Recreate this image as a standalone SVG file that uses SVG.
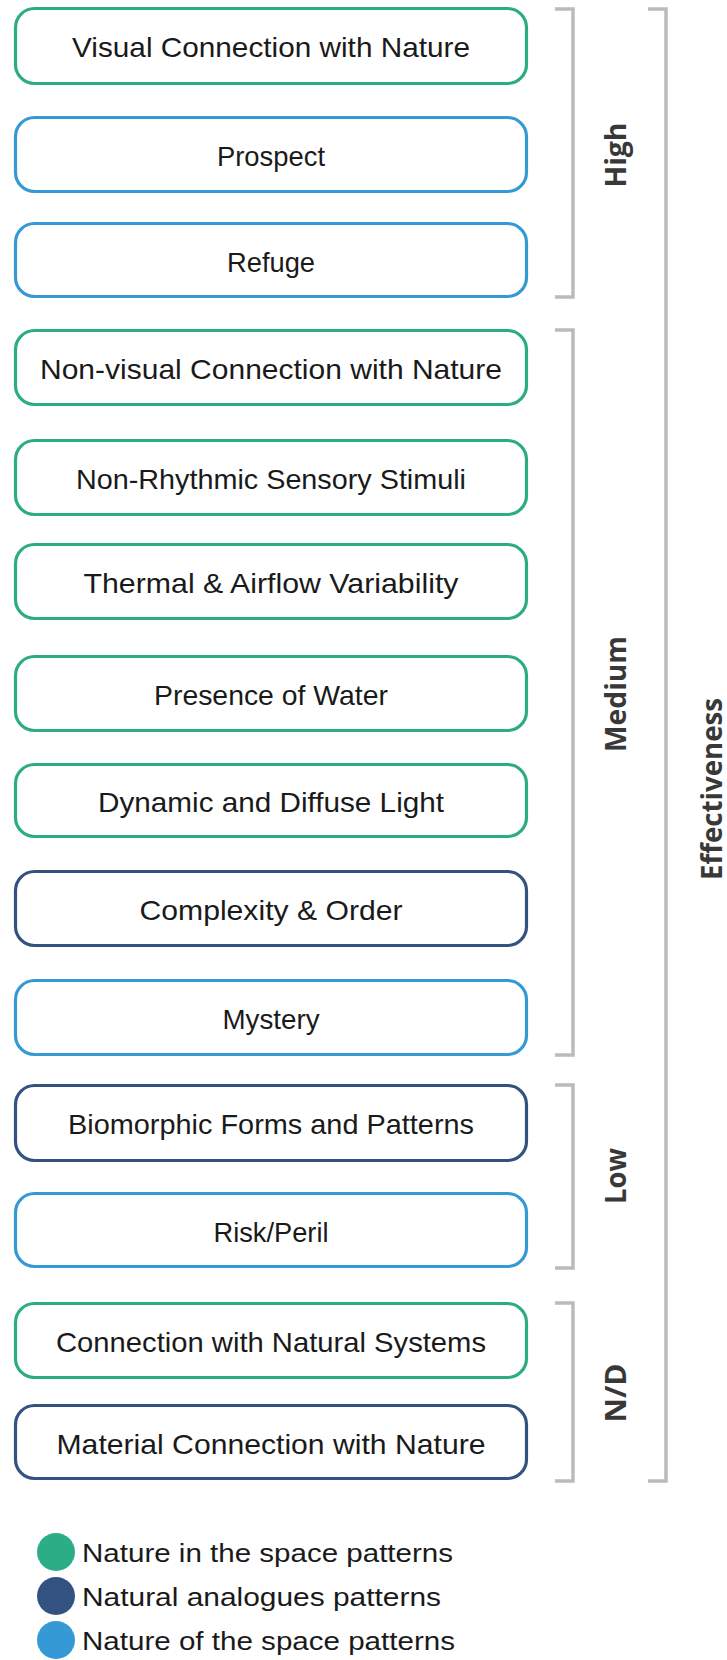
<svg xmlns="http://www.w3.org/2000/svg" width="727" height="1660" viewBox="0 0 727 1660">
<style>
.box{fill:#fff;stroke-width:3.2}
.g{stroke:#2BAC83}
.n{stroke:#33527F}
.b{stroke:#3499D4}
.t{font-family:"Liberation Sans",Arial,sans-serif;font-size:28px;fill:#1a1a1a;text-anchor:middle}
.lbl{font-family:"Open Sans","Liberation Sans",sans-serif;font-weight:bold;font-size:28px;fill:#383838;text-anchor:middle}
.br{fill:none;stroke:#BBBBBB;stroke-width:3.5}
.lg{font-family:"Liberation Sans",Arial,sans-serif;font-size:26.5px;fill:#1a1a1a}
</style>
<g id="connectors">
<path class="br" d="M555,9 H573 V297 H555"/>
<path class="br" d="M555,330 H573 V1055 H555"/>
<path class="br" d="M555,1085 H573 V1268 H555"/>
<path class="br" d="M555,1303 H573 V1481 H555"/>
<path class="br" d="M648,9 H666 V1481 H648"/>
</g>
<g id="n1"><rect class="box g" x="15.5" y="8.5" width="511" height="75" rx="19"/><text class="t" x="271" y="57" textLength="398" lengthAdjust="spacingAndGlyphs">Visual Connection with Nature</text></g>
<g id="n2"><rect class="box b" x="15.5" y="117.5" width="511" height="74" rx="19"/><text class="t" x="271" y="166" textLength="108" lengthAdjust="spacingAndGlyphs">Prospect</text></g>
<g id="n3"><rect class="box b" x="15.5" y="223.5" width="511" height="73" rx="19"/><text class="t" x="271" y="272" textLength="88" lengthAdjust="spacingAndGlyphs">Refuge</text></g>
<g id="n4"><rect class="box g" x="15.5" y="330.5" width="511" height="74" rx="19"/><text class="t" x="271" y="379" textLength="462" lengthAdjust="spacingAndGlyphs">Non-visual Connection with Nature</text></g>
<g id="n5"><rect class="box g" x="15.5" y="440.5" width="511" height="74" rx="19"/><text class="t" x="271" y="489" textLength="390" lengthAdjust="spacingAndGlyphs">Non-Rhythmic Sensory Stimuli</text></g>
<g id="n6"><rect class="box g" x="15.5" y="544.5" width="511" height="74" rx="19"/><text class="t" x="271" y="593" textLength="375" lengthAdjust="spacingAndGlyphs">Thermal &amp; Airflow Variability</text></g>
<g id="n7"><rect class="box g" x="15.5" y="656.5" width="511" height="74" rx="19"/><text class="t" x="271" y="705" textLength="234" lengthAdjust="spacingAndGlyphs">Presence of Water</text></g>
<g id="n8"><rect class="box g" x="15.5" y="764.5" width="511" height="72" rx="19"/><text class="t" x="271" y="812" textLength="346" lengthAdjust="spacingAndGlyphs">Dynamic and Diffuse Light</text></g>
<g id="n9"><rect class="box n" x="15.5" y="871.5" width="511" height="74" rx="19"/><text class="t" x="271" y="920" textLength="263" lengthAdjust="spacingAndGlyphs">Complexity &amp; Order</text></g>
<g id="n10"><rect class="box b" x="15.5" y="980.5" width="511" height="74" rx="19"/><text class="t" x="271" y="1029" textLength="97" lengthAdjust="spacingAndGlyphs">Mystery</text></g>
<g id="n11"><rect class="box n" x="15.5" y="1085.5" width="511" height="75" rx="19"/><text class="t" x="271" y="1134" textLength="406" lengthAdjust="spacingAndGlyphs">Biomorphic Forms and Patterns</text></g>
<g id="n12"><rect class="box b" x="15.5" y="1193.5" width="511" height="73" rx="19"/><text class="t" x="271" y="1242" textLength="115" lengthAdjust="spacingAndGlyphs">Risk/Peril</text></g>
<g id="n13"><rect class="box g" x="15.5" y="1303.5" width="511" height="74" rx="19"/><text class="t" x="271" y="1352" textLength="430" lengthAdjust="spacingAndGlyphs">Connection with Natural Systems</text></g>
<g id="n14"><rect class="box n" x="15.5" y="1405.5" width="511" height="73" rx="19"/><text class="t" x="271" y="1454" textLength="429" lengthAdjust="spacingAndGlyphs">Material Connection with Nature</text></g>
<g id="labels">
<text class="lbl" transform="translate(626,155) rotate(-90)" textLength="65" lengthAdjust="spacingAndGlyphs">High</text>
<text class="lbl" transform="translate(626,694) rotate(-90)" textLength="116" lengthAdjust="spacingAndGlyphs">Medium</text>
<text class="lbl" transform="translate(626,1176) rotate(-90)" textLength="56" lengthAdjust="spacingAndGlyphs">Low</text>
<text class="lbl" transform="translate(626,1393) rotate(-90)" textLength="59" lengthAdjust="spacingAndGlyphs">N/D</text>
<text class="lbl" transform="translate(722,789) rotate(-90)" textLength="182" lengthAdjust="spacingAndGlyphs">Effectiveness</text>
</g>
<g id="legend">
<circle cx="56" cy="1552" r="19" fill="#2BAE85"/>
<text class="lg" x="82" y="1562" textLength="371" lengthAdjust="spacingAndGlyphs">Nature in the space patterns</text>
<circle cx="56" cy="1596" r="19" fill="#33527F"/>
<text class="lg" x="82" y="1606" textLength="359" lengthAdjust="spacingAndGlyphs">Natural analogues patterns</text>
<circle cx="56" cy="1640" r="19" fill="#3499D4"/>
<text class="lg" x="82" y="1650" textLength="373" lengthAdjust="spacingAndGlyphs">Nature of the space patterns</text>
</g>
</svg>
